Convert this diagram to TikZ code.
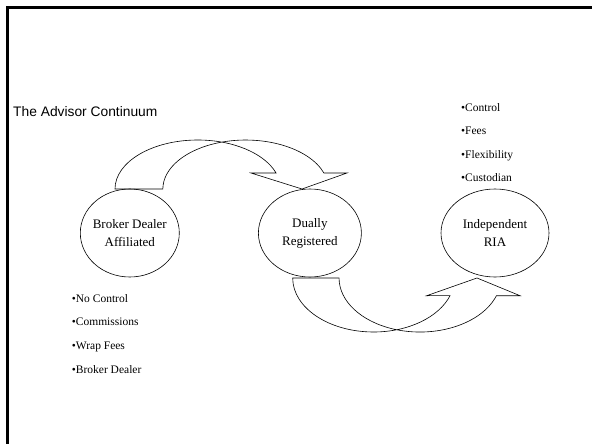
\documentclass[tikz,border=0pt]{standalone}
\usepackage{fontspec}
\setmainfont{Liberation Serif}
\newfontfamily\titlefont{Liberation Sans}
\usetikzlibrary{shapes.geometric, positioning}

\begin{document}
\begin{tikzpicture}[
    x=1pt, y=-1pt,
    stage/.style={draw, ellipse, line width=0.6pt, inner sep=0pt, minimum height=88pt},
    stagetext/.style={align=center, font=\fontsize{13}{18}\selectfont},
    bullet/.style={anchor=base west, inner sep=0pt, font=\fontsize{11.5}{14}\selectfont},
    blockarrow/.style={draw, line width=0.6pt, line join=miter},
]
\useasboundingbox (0,0) rectangle (592,444);
\draw[line width=3pt] (7.5,444) -- (7.5,7.5) -- (592,7.5);

\node[anchor=base west, inner sep=0pt, font=\titlefont\fontsize{13.8}{16}\selectfont] (title) at (13,117) {The Advisor Continuum};

\node[stage, minimum width=99pt] (bd) at (129.8,233) {};
\node[stage, minimum width=103pt, right=78.5pt of bd] (dr) {};
\node[stage, minimum width=108pt, right=79pt of dr] (ria) {};

\node[stagetext] (bdtext)  at (bd)  {Broker Dealer\\Affiliated};
\node[stagetext] (drtext)  at (dr)  {Dually\\Registered};
\node[stagetext] (riatext) at (ria) {Independent\\RIA};

\foreach \txt [count=\i] in {Control, Fees, Flexibility, Custodian}
  \node[bullet] (riapt\i) at (461, 87.5+23.5*\i) {•\txt};
\foreach \txt [count=\i] in {No Control, Commissions, Wrap Fees, Broker Dealer}
  \node[bullet] (bdpt\i) at (71.7, 278.3+23.7*\i) {•\txt};

% curved block arrows
\draw[blockarrow] (115,189) arc[start angle=180, end angle=340.9, x radius=82.8, y radius=49]
  -- (251,173) -- (302,189) -- (347,173) -- (323.9,173)
  arc[start angle=340.9, end angle=180, x radius=82.8, y radius=49] -- cycle;
\draw[blockarrow] (292.7,278) arc[start angle=180, end angle=19.1, x radius=80.9, y radius=54]
  -- (426.7,295.7) -- (477,278) -- (520,295.7) -- (496.4,295.7)
  arc[start angle=19.1, end angle=180, x radius=80.9, y radius=54] -- cycle;

\end{tikzpicture}
\end{document}
